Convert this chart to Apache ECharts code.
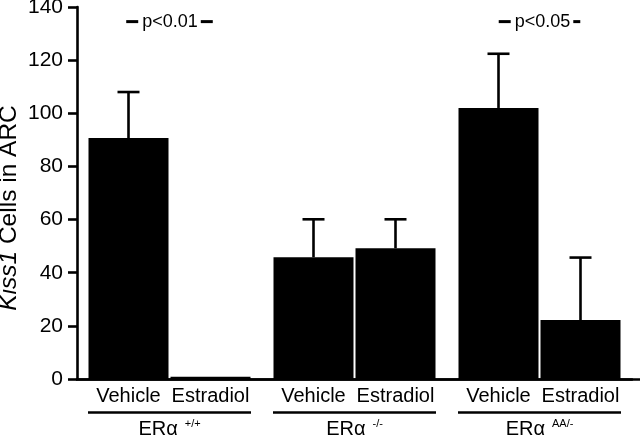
<!DOCTYPE html>
<html><head><meta charset="utf-8">
<script src="https://cdn.jsdelivr.net/npm/echarts@6/dist/echarts.min.js"></script>
<style>html,body{margin:0;padding:0;background:#fff}#c{width:640px;height:436px}</style>
</head><body><div id="c"></div>
<script>
// ---- data ----
const genotypes = ['+/+', '-/-', 'AA/-'];
const treatments = ['Vehicle', 'Estradiol'];
const vehicleMean = [90.7, 45.8, 102.0];
const vehicleErrTop = [108.0, 60.1, 122.4];
const estradiolMean = [0.8, 49.2, 22.2];
const estradiolErrTop = [null, 60.1, 45.7];
const sigGroupIndex = [0, 2];
const sigLabels = ['p<0.01', 'p<0.05'];
const yMin = 0, yMax = 140, yStep = 20;

// ---- styles ----
const FONT = 'Liberation Sans, Arial, Helvetica, sans-serif';
const BAR_W = 80, BAR_GAP = 2;
const INK = '#000';

const chart = echarts.init(document.getElementById('c'), null, {renderer: 'canvas'});

function errSeries(means, tops, idx) {
  const data = [];
  means.forEach((m, i) => { if (tops[i] != null) data.push([i, m, tops[i]]); });
  return {
    type: 'custom', xAxisIndex: 0, yAxisIndex: 0, z: 3, silent: true,
    encode: {x: 0, y: [1, 2]},
    data,
    renderItem(params, api) {
      const off = (idx === 0 ? -1 : 1) * (BAR_W + BAR_GAP) / 2;
      const base = api.coord([api.value(0), api.value(1)]);
      const top = api.coord([api.value(0), api.value(2)]);
      const x = base[0] + off;
      return {type: 'group', children: [
        {type: 'line', shape: {x1: x, y1: base[1], x2: x, y2: top[1]}, style: {stroke: INK, lineWidth: 2.6}},
        {type: 'line', shape: {x1: x - 11, y1: top[1], x2: x + 11, y2: top[1]}, style: {stroke: INK, lineWidth: 2.6}}
      ]};
    }
  };
}

function barSeries(name, values) {
  return {
    name, type: 'bar', xAxisIndex: 0, yAxisIndex: 0,
    data: values, barWidth: BAR_W, barGap: (BAR_GAP / BAR_W * 100) + '%',
    itemStyle: {color: INK},
    label: {show: true, position: 'bottom', distance: 7, formatter: '{a}',
      color: INK, fontSize: 20, fontFamily: FONT},
    z: 2
  };
}

const option = {
  animation: false,
  backgroundColor: '#fff',
  textStyle: {fontFamily: FONT, color: INK},
  grid: [
    {left: 77, right: 8, top: 7, bottom: 57, containLabel: false, outerBoundsMode: 'none'},
    {left: 77, right: 0, top: 7, bottom: 57, containLabel: false, outerBoundsMode: 'none'}
  ],
  xAxis: [
    {type: 'category', gridIndex: 0, data: genotypes,
      axisLine: {show: true, lineStyle: {color: INK, width: 2.6}},
      axisTick: {show: false},
      axisLabel: {interval: 0, margin: 32, color: INK, fontFamily: FONT,
        formatter: v => '{u| }\n{g|ERα}{s|' + v + '}',
        rich: {
          u: {width: 163, height: 2.5, lineHeight: 3, backgroundColor: INK, fontSize: 2},
          g: {fontSize: 20, lineHeight: 30, color: INK, fontFamily: FONT},
          s: {fontSize: 11, lineHeight: 30, verticalAlign: 'top', color: INK, fontFamily: FONT, padding: [4, 0, 0, 7]}
        }},
      splitLine: {show: false}},
    {type: 'value', gridIndex: 1, min: 0, max: 1,
      axisLine: {show: true, lineStyle: {color: INK, width: 2.6}},
      axisTick: {show: false}, axisLabel: {show: false}, splitLine: {show: false}}
  ],
  yAxis: [
    {type: 'value', gridIndex: 0, min: yMin, max: yMax, interval: yStep,
      name: '{i|Kiss1} Cells in ARC', nameLocation: 'middle', nameGap: 55, nameMoveOverlap: false,
      nameTextStyle: {fontSize: 24.5, color: INK, fontFamily: FONT, padding: [0, 30, 0, 0],
        rich: {i: {fontStyle: 'italic', fontSize: 24.5, color: INK, fontFamily: FONT}}},
      axisLine: {show: true, lineStyle: {color: INK, width: 2.6}},
      axisTick: {show: true, inside: false, length: 9, lineStyle: {color: INK, width: 2.6}},
      axisLabel: {margin: 14, fontSize: 21, color: INK, fontFamily: FONT},
      splitLine: {show: false}},
    {type: 'value', gridIndex: 1, min: 0, max: 1, show: false}
  ],
  series: [
    barSeries(treatments[0], vehicleMean),
    barSeries(treatments[1], estradiolMean),
    errSeries(vehicleMean, vehicleErrTop, 0),
    errSeries(estradiolMean, estradiolErrTop, 1),
    {type: 'scatter', xAxisIndex: 0, yAxisIndex: 0, symbolSize: 0, silent: true, z: 4,
      itemStyle: {opacity: 1},
      data: sigGroupIndex.map(g => [g, 134.5]),
      label: {show: true, position: 'inside', color: INK, opacity: 1,
        formatter: p => '{d| }{t|' + sigLabels[p.dataIndex] + '}{' + (p.dataIndex === 1 ? 'e' : 'd') + '| }',
        rich: {
          d: {width: 12, height: 3, backgroundColor: INK, fontSize: 2},
          e: {width: 7, height: 3, backgroundColor: INK, fontSize: 2},
          t: {fontSize: 18, color: INK, fontFamily: FONT, padding: [0, 3, 0, 4]}
        }}}
  ]
};
chart.setOption(option);
</script></body></html>
